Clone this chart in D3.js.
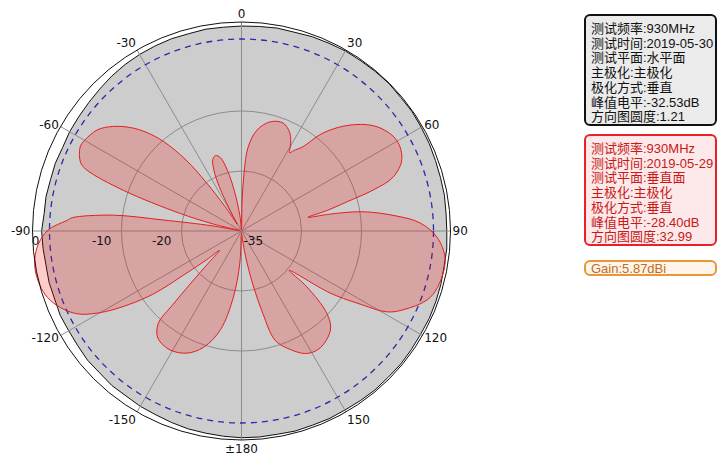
<!DOCTYPE html>
<html>
<head>
<meta charset="utf-8">
<script src="https://cdn.jsdelivr.net/npm/d3@7"></script>
<style>
  body { margin: 0; background: #fff; }
  svg { display: block; }
</style>
</head>
<body>
<script>
// Angle ticks (degrees, clockwise from top) and their labels
const angleTicks = [0, 30, 60, 90, 120, 150, 180, -150, -120, -90, -60, -30];
const angleLabels = ["0", "30", "60", "90", "120", "150", "\u00b1180", "-150", "-120", "-90", "-60", "-30"];

// Level rings (dB)
const ringTicks = [-20, -10];
const ringLabels = [0, -10, -20, -35];

// Horizontal plane (grey) pattern, every 5 degrees, dB
const grayAngles = [
  0, 5, 10, 15, 20, 25, 30, 35, 40, 45, 50, 55, 60, 65, 70, 75, 80, 85,
  90, 95, 100, 105, 110, 115, 120, 125, 130, 135, 140, 145, 150, 155, 160, 165, 170, 175,
  180, -175, -170, -165, -160, -155, -150, -145, -140, -135, -130, -125, -120, -115, -110, -105,
  -100, -95, -90, -85, -80, -75, -70, -65, -60, -55, -50, -45, -40, -35, -30, -25, -20, -15, -10, -5
];
const grayDb = [
  1.8, 1.85, 1.95, 1.9, 2.05, 2.1, 2.2, 2.2, 2.25, 2.3, 2.2, 2.25, 2.15, 2.1, 2.0, 1.95, 1.95, 1.85,
  1.85, 1.95, 1.9, 2.0, 2.05, 2.1, 2.05, 2.1, 2.15, 2.1, 2.15, 2.1, 2.05, 2.1, 2.05, 2.1, 2.0, 2.05,
  2.05, 1.95, 1.85, 1.8, 1.65, 1.5, 1.45, 1.3, 1.35, 1.2, 1.25, 1.1, 1.05, 1.1, 0.95, 1.0,
  0.9, 1.0, 1.1, 0.85, 0.9, 0.8, 0.85, 0.75, 0.9, 0.95, 1.05, 1.2, 1.4, 1.55, 1.65, 1.7, 1.75, 1.7, 1.8, 1.75
];

// Vertical plane (red) pattern, dB
const redAngles = [
  -180, -177, -173, -168, -162, -156, -149, -142, -138, -137, -136, -134, -131.5, -129.5, -127.5,
  -125, -120, -116, -109, -101, -95, -90, -86.5, -85.5, -83, -82, -80, -78,
  -76, -74, -71, -68.5, -67, -62.5, -60, -55, -51, -47, -44, -41, -38, -36, -34, -32,
  -30, -27, -25, -22, -19, -16, -13, -10, -6, -2,
  1, 2.5, 4.5, 8.7, 14.7, 21, 26.3, 30, 31.5, 33, 36, 39.7, 45.7, 52.5, 59.7, 66, 70.4,
  72.7, 74.5, 76.5, 78.4, 79.2, 81, 84.5, 87.4, 91.8, 98, 106, 110.4, 116, 119, 122, 125,
  129.5, 130.5, 134, 138, 146, 152, 158.7, 163, 165.5, 168, 171, 175
];
const redDb = [
  -34.3, -27, -18.9, -13.2, -9.7, -8.1, -7.4, -7.8, -9.4, -13.3, -17.3, -23.7, -27.7, -23.7, -18.5,
  -10.8, -4.0, -0.7, 1.8, 2.5, 1.9, 0.35, -2.4, -3.1, -8.6, -16.8, -27.5, -34.5,
  -27.5, -19.3, -9.3, -3.6, -2.4, -1.4, -1.5, -2.2, -3.6, -5.6, -7.6, -10.3, -15, -20, -27.5, -33,
  -31.2, -23.7, -19.5, -17.2, -16.7, -17.3, -19.7, -25, -31.2, -34.5,
  -28, -20.5, -16, -13, -11.2, -10.7, -11.8, -13.7, -14.7, -14, -12.7, -9, -5.6, -2.9, -1.7, -2.3, -4.3,
  -7.5, -11.7, -15.3, -18.7, -15, -9.6, -5, -1.85, 0.5, 1.9, 1.67, 0.83, -1.7, -3.5, -7.8, -12,
  -19.7, -15.7, -10.2, -8.2, -7.1, -7.4, -9.2, -11, -15.8, -21.2, -28.7, -33.7
];

// Legend texts
const legend1Lines = [
  "测试频率:930MHz",
  "测试时间:2019-05-30",
  "测试平面:水平面",
  "主极化:主极化",
  "极化方式:垂直",
  "峰值电平:-32.53dB",
  "方向图圆度:1.21"
];
const legend2Lines = [
  "测试频率:930MHz",
  "测试时间:2019-05-29",
  "测试平面:垂直面",
  "主极化:主极化",
  "极化方式:垂直",
  "峰值电平:-28.40dB",
  "方向图圆度:32.99"
];
const gainText = "Gain:5.87dBi";

// Layout
const W = 724, H = 472;
const cx = 241.5, cy = 231, R = 209;
const rad = (d) => (d * Math.PI) / 180;

const svg = d3.select("body").append("svg")
  .attr("width", W)
  .attr("height", H);

const g = svg.append("g").attr("transform", `translate(${cx},${cy})`);

// radial scale (non-linear ring spacing as in the reference)
const r = d3.scaleLinear().domain([-35, -20, -10, 0]).range([0, 60, 120, 192]);

const zipPts = (angles, vals) => angles.map((a, i) => ({ a, v: vals[i] }))
  .sort((p, q) => p.a - q.a);

const line = d3.lineRadial()
  .angle((d) => rad(d.a))
  .radius((d) => Math.max(0, r(d.v)));

// Grey pattern
g.append("path")
  .datum(zipPts(grayAngles, grayDb))
  .attr("d", line.curve(d3.curveLinearClosed))
  .attr("fill", "#cdcdcd")
  .attr("stroke", "#111")
  .attr("stroke-width", 1);

// Grid rings
g.selectAll(".ring")
  .data(ringTicks)
  .enter()
  .append("circle")
  .attr("r", (d) => r(d))
  .attr("fill", "none")
  .attr("stroke", "#8c8c8c")
  .attr("stroke-width", 1);

// Spokes
g.selectAll(".spoke")
  .data(angleTicks)
  .enter()
  .append("line")
  .attr("x1", 0)
  .attr("y1", 0)
  .attr("x2", (d) => R * Math.sin(rad(d)))
  .attr("y2", (d) => -R * Math.cos(rad(d)))
  .attr("stroke", "#8c8c8c")
  .attr("stroke-width", 1);

// 0 dB reference ring (blue dashed)
g.append("circle")
  .attr("r", r(0))
  .attr("fill", "none")
  .attr("stroke", "#2a2aa8")
  .attr("stroke-width", 1.3)
  .attr("stroke-dasharray", "6,5");

// Red pattern
g.append("path")
  .datum(zipPts(redAngles, redDb))
  .attr("d", line.curve(d3.curveCatmullRomClosed.alpha(0.5)))
  .attr("fill", "rgba(255,0,0,0.2)")
  .attr("stroke", "#e41e1e")
  .attr("stroke-width", 1);

// Outer circle
g.append("circle")
  .attr("r", R)
  .attr("fill", "none")
  .attr("stroke", "#111")
  .attr("stroke-width", 1);

// Angle labels
g.selectAll(".alabel")
  .data(angleTicks)
  .enter()
  .append("text")
  .attr("x", (d) => (R + 2) * Math.sin(rad(d)))
  .attr("y", (d) => -(R + 2) * Math.cos(rad(d)) - 2 * Math.cos(rad(d)))
  .attr("text-anchor", (d) => {
    const s = Math.sin(rad(d));
    return s > 0.05 ? "start" : s < -0.05 ? "end" : "middle";
  })
  .attr("dominant-baseline", (d) => {
    const c = Math.cos(rad(d));
    return c > 0.6 ? "auto" : c < -0.6 ? "hanging" : "central";
  })
  .style("font-family", "DejaVu Sans, sans-serif")
  .style("font-size", "12px")
  .style("fill", "#111")
  .text((d, i) => angleLabels[i]);

// Ring labels along the -90 axis
g.selectAll(".rlabel")
  .data(ringLabels)
  .enter()
  .append("text")
  .attr("x", (d) => (d === -35 ? 2 : -r(d) - 10))
  .attr("y", 10)
  .attr("text-anchor", (d) => (d === -35 ? "start" : "end"))
  .attr("dominant-baseline", "central")
  .style("font-family", "DejaVu Sans, sans-serif")
  .style("font-size", "12px")
  .style("fill", "#111")
  .text((d) => d);

// Legend boxes
const legendFont = "'Liberation Sans', 'Noto Sans CJK SC', sans-serif";

const drawBox = (y, h, stroke, fill, color, lines, baseY) => {
  svg.append("rect")
    .attr("x", 585)
    .attr("y", y)
    .attr("width", 131)
    .attr("height", h)
    .attr("rx", 5)
    .attr("fill", fill)
    .attr("stroke", stroke)
    .attr("stroke-width", 2);

  svg.selectAll(null)
    .data(lines)
    .enter()
    .append("text")
    .attr("x", 591)
    .attr("y", (d, i) => baseY + i * 14.7)
    .style("font-family", legendFont)
    .style("font-size", "13px")
    .style("fill", color)
    .text((d) => d);
};

drawBox(15, 110, "#111", "#ebebeb", "#111", legend1Lines, 33);
drawBox(135, 110, "#e8202a", "#fde9e9", "#c81818", legend2Lines, 153);
drawBox(261, 14, "#e8963c", "#fff5ea", "#c46a1a", [gainText], 272.5);
</script>
</body>
</html>
